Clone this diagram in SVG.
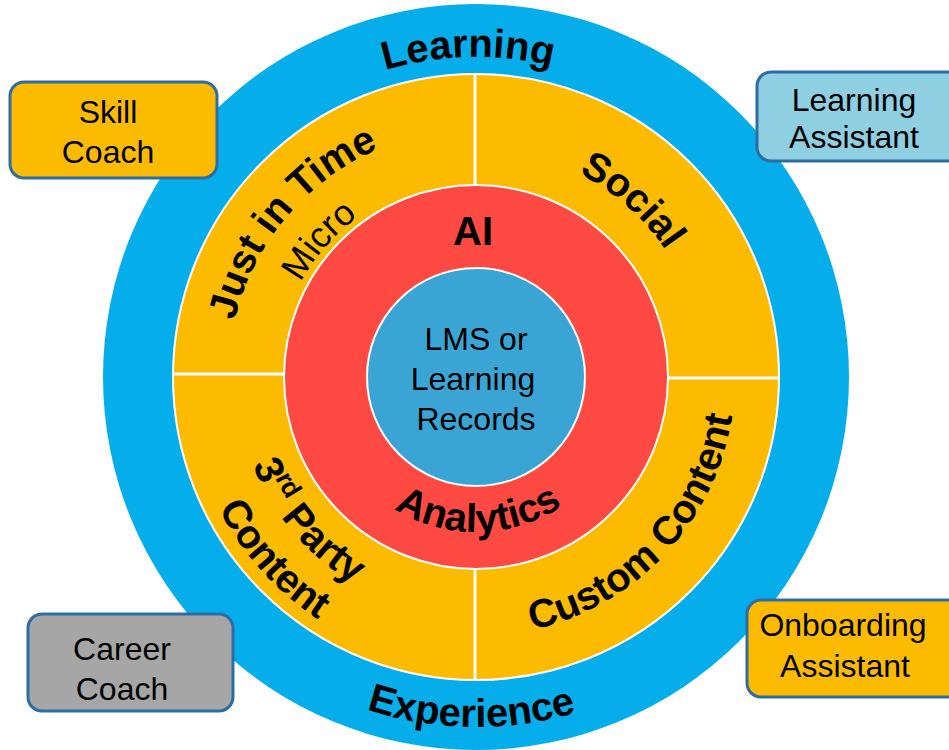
<svg xmlns="http://www.w3.org/2000/svg" xmlns:xlink="http://www.w3.org/1999/xlink" width="949" height="750" viewBox="0 0 949 750">
  <style>
    text { font-family: "Liberation Sans", Arial, Helvetica, sans-serif; fill: #000; }
    .ring { font-weight: bold; font-size: 40px; }
    .thin { font-size: 36px; }
    .core { font-size: 32px; text-anchor: middle; }
    .box { stroke: #2E6CA4; stroke-width: 3; }
    .boxtxt { font-size: 32px; text-anchor: middle; }
    .sep { stroke: #fff; stroke-width: 3; }
  </style>
  <defs>
    <!-- baselines for curved labels; all arcs are centred on (476,377) -->
    <path id="arcLearning" d="M172.7,274.9 A320,320 0 0 1 773.9,260.2"/>
    <path id="arcExperience" d="M145.5,492.1 A350,350 0 0 0 803.2,501.3"/>
    <path id="arcJust" d="M261.2,501 A248,248 0 0 1 560.8,144"/>
    <path id="arcMicro" d="M302,473.5 A199,199 0 0 1 547.3,191.2"/>
    <path id="arcSocial" d="M367.2,176.6 A228,228 0 0 1 688.1,460.6"/>
    <path id="arcAnalytics" d="M331.3,432.6 A155,155 0 0 0 622.6,427.5"/>
    <path id="arcParty" d="M267.1,258.8 A240,240 0 0 0 560,601.8"/>
    <path id="arcContent" d="M220.8,241.3 A289,289 0 0 0 584.3,645"/>
    <path id="arcCustom" d="M374.8,615.4 A259,259 0 0 0 706.8,259.4"/>
  </defs>

  <rect width="949" height="750" fill="#fff"/>

  <!-- outer band: Learning Experience -->
  <g id="experience-ring">
    <circle cx="476" cy="377" r="373" fill="#05ADEB"/>
    <text class="ring"><textPath xlink:href="#arcLearning" href="#arcLearning" startOffset="50%" text-anchor="middle">Learning</textPath></text>
    <text class="ring" font-size="38"><textPath xlink:href="#arcExperience" href="#arcExperience" startOffset="50%" text-anchor="middle">Experience</textPath></text>
  </g>

  <!-- content ring, split into four quadrants -->
  <g id="content-ring">
    <circle cx="476" cy="377" r="303" fill="#FDBB00" stroke="#fff" stroke-width="2"/>
  </g>

  <g id="analytics-ring">
    <circle cx="476" cy="377" r="192" fill="#FE4A42" stroke="#fff" stroke-width="2"/>
  </g>

  <g id="connectors">
    <line class="sep" x1="475" y1="73" x2="475" y2="186"/>
    <line class="sep" x1="172" y1="374" x2="285" y2="374"/>
    <line class="sep" x1="667" y1="378" x2="780" y2="378"/>
    <line class="sep" x1="475" y1="568" x2="475" y2="681"/>
  </g>

  <g id="just-in-time">
    <text class="ring" font-size="42"><textPath xlink:href="#arcJust" href="#arcJust" startOffset="50%" text-anchor="middle">Just in Time</textPath></text>
    <text class="thin"><textPath xlink:href="#arcMicro" href="#arcMicro" startOffset="50%" text-anchor="middle">Micro</textPath></text>
  </g>

  <g id="social">
    <text class="ring"><textPath xlink:href="#arcSocial" href="#arcSocial" startOffset="50%" text-anchor="middle">Social</textPath></text>
  </g>

  <g id="third-party">
    <text class="ring" font-size="42"><textPath xlink:href="#arcParty" href="#arcParty" startOffset="50%" text-anchor="middle">3<tspan font-size="26" dy="-15">rd</tspan><tspan dy="15"> Party</tspan></textPath></text>
    <text class="ring" font-size="42"><textPath xlink:href="#arcContent" href="#arcContent" startOffset="50%" text-anchor="middle">Content</textPath></text>
  </g>

  <g id="custom-content">
    <text class="ring"><textPath xlink:href="#arcCustom" href="#arcCustom" startOffset="50%" text-anchor="middle">Custom Content</textPath></text>
  </g>

  <g id="ai-analytics">
    <text class="ring" x="473" y="245" text-anchor="middle">AI</text>
    <text class="ring" font-size="44"><textPath xlink:href="#arcAnalytics" href="#arcAnalytics" startOffset="50%" text-anchor="middle">Analytics</textPath></text>
  </g>

  <g id="records">
    <circle cx="476" cy="377" r="109" fill="#3AA5D5" stroke="#fff" stroke-width="2"/>
    <text class="core" x="476" y="350">LMS or</text>
    <text class="core" x="473" y="390">Learning</text>
    <text class="core" x="476" y="430">Records</text>
  </g>

  <g id="skill-coach">
    <rect class="box" x="10" y="82" width="207" height="96" rx="14" fill="#FDBB00"/>
    <text class="boxtxt" x="108" y="123">Skill</text>
    <text class="boxtxt" x="108" y="163">Coach</text>
  </g>

  <g id="learning-assistant">
    <rect class="box" x="757" y="72" width="210" height="89" rx="14" fill="#8ECFE1"/>
    <text class="boxtxt" x="854" y="111">Learning</text>
    <text class="boxtxt" x="854" y="148">Assistant</text>
  </g>

  <g id="career-coach">
    <rect class="box" x="28" y="614" width="205" height="97" rx="14" fill="#A6A6A6"/>
    <text class="boxtxt" x="122" y="660">Career</text>
    <text class="boxtxt" x="122" y="700">Coach</text>
  </g>

  <g id="onboarding-assistant">
    <rect class="box" x="747" y="600" width="215" height="97" rx="14" fill="#FDBB00"/>
    <text class="boxtxt" x="843" y="636">Onboarding</text>
    <text class="boxtxt" x="845" y="677">Assistant</text>
  </g>
</svg>
